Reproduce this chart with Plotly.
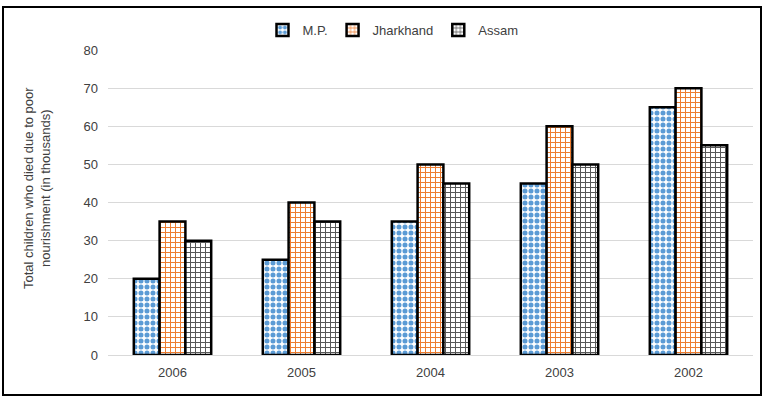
import plotly.graph_objects as go

years = ["2006", "2005", "2004", "2003", "2002"]
mp = [20, 25, 35, 45, 65]
jharkhand = [35, 40, 50, 60, 70]
assam = [30, 35, 45, 50, 55]
y_ticks = [0, 10, 20, 30, 40, 50, 60, 70, 80]

W, H = 767, 399
L, R, T, B = 108, 14, 50, 44
pw, ph = W - L - R, H - T - B

FONT = "Liberation Sans, Arial, sans-serif"
TXT = "#404040"

fig = go.Figure()
fig.add_trace(go.Bar(
    name="M.P.", x=years, y=mp,
    marker=dict(color="white", line=dict(color="black", width=2.5),
                pattern=dict(shape=".", fgcolor="#5b9bd5", bgcolor="white",
                             fgopacity=1, size=6, solidity=0.55, fillmode="overlay")),
))
fig.add_trace(go.Bar(
    name="Jharkhand", x=years, y=jharkhand,
    marker=dict(color="white", line=dict(color="black", width=2.5),
                pattern=dict(shape="+", fgcolor="#ed7d31", bgcolor="white",
                             fgopacity=1, size=5, solidity=0.36, fillmode="overlay")),
))
fig.add_trace(go.Bar(
    name="Assam", x=years, y=assam,
    marker=dict(color="white", line=dict(color="black", width=2.5),
                pattern=dict(shape="+", fgcolor="#595959", bgcolor="white",
                             fgopacity=1, size=5, solidity=0.36, fillmode="overlay")),
))


def px_x(x):
    return (x - L) / pw


def px_y(y):
    return (H - B - y) / ph


fig.update_layout(
    width=W, height=H,
    margin=dict(l=L, r=R, t=T, b=B, autoexpand=False),
    paper_bgcolor="white", plot_bgcolor="white",
    barmode="group", bargap=0.4, bargroupgap=0,
    font=dict(family=FONT, size=13, color=TXT),
    legend=dict(orientation="h", x=px_x(393), xanchor="center",
                y=px_y(30), yanchor="middle",
                font=dict(size=13, color=TXT), traceorder="normal"),
    xaxis=dict(showline=True, linecolor="#d9d9d9", linewidth=1, ticks="",
               showgrid=False, tickfont=dict(size=13, color=TXT),
               ticklabelstandoff=5),
    yaxis=dict(range=[0, 80], tickmode="array", tickvals=y_ticks, showgrid=True,
               gridcolor="#d9d9d9", gridwidth=1, zeroline=False, showline=False,
               ticks="", ticklabelstandoff=9,
               tickfont=dict(size=13, color=TXT)),
    annotations=[dict(
        text="Total children who died due to poor<br>nourishment (in thousands)",
        xref="paper", yref="paper", x=px_x(37), y=px_y(188),
        xanchor="center", yanchor="middle", textangle=-90, showarrow=False,
        font=dict(size=13, color=TXT, family=FONT))],
    shapes=[dict(type="rect", xref="paper", yref="paper",
                 x0=px_x(3), x1=px_x(761), y0=px_y(395), y1=px_y(7),
                 line=dict(color="black", width=2), fillcolor="rgba(0,0,0,0)",
                 layer="above")],
)
fig.write_html("out.html", config={"displayModeBar": False},
               post_script="document.body.style.margin='0';")
